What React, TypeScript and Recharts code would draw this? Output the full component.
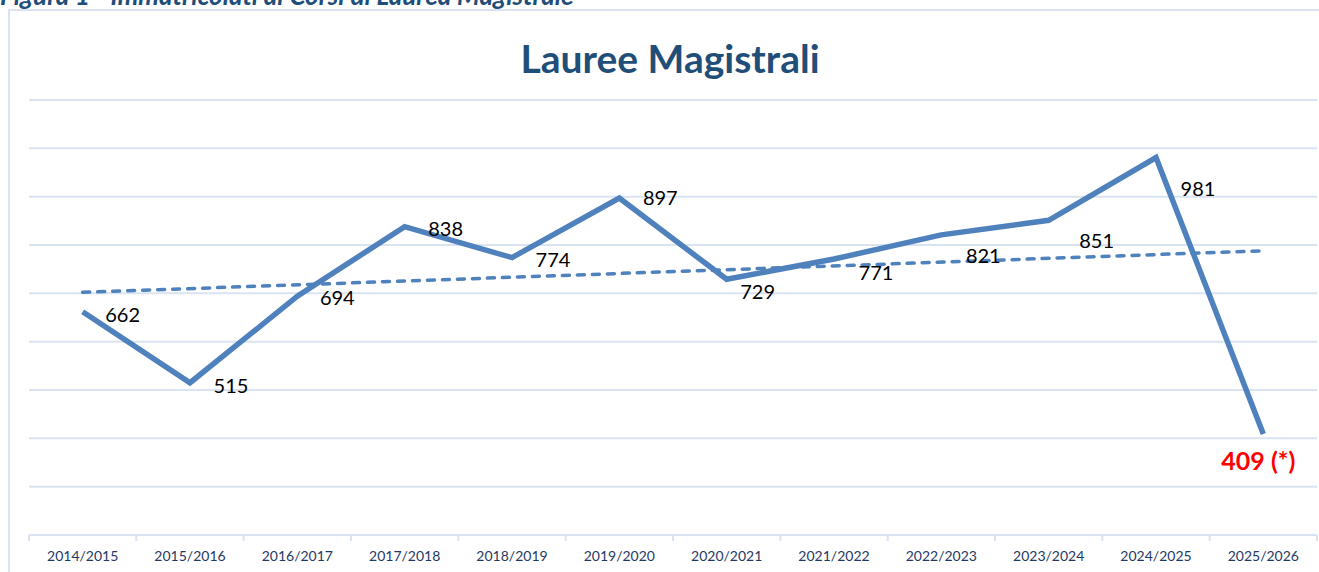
import React from "react";
import {
  LineChart,
  Line,
  XAxis,
  YAxis,
  CartesianGrid,
  ReferenceLine,
  LabelList,
} from "recharts";

// anni accademici
const categories = [
  "2014/2015",
  "2015/2016",
  "2016/2017",
  "2017/2018",
  "2018/2019",
  "2019/2020",
  "2020/2021",
  "2021/2022",
  "2022/2023",
  "2023/2024",
  "2024/2025",
  "2025/2026",
];

// immatricolati
const iscritti = [662, 515, 694, 838, 774, 897, 729, 771, 821, 851, 981, 409];

// linea di tendenza (estremi)
const trendStart = 702;
const trendEnd = 788;

const yTicks = [200, 300, 400, 500, 600, 700, 800, 900, 1000, 1100];

const data = categories.map((anno, i) => ({ anno, valore: iscritti[i] }));

const W = 1319;
const H = 572;
const MARGIN = { top: 100, right: 2, left: 29, bottom: 0 };
const BAND = (W - MARGIN.left - MARGIN.right) / categories.length;

const BLUE = "#4f81bd";
const GRID = "#d9e3f2";
const FONT = "Lato, 'Open Sans', sans-serif";

// spostamento delle etichette rispetto al punto
const labelDx = [40, 41, 40, 41, 41, 41, 31, 42, 42, 48, 42, -5];
const labelDy = [2, 2, 1, 1, 1, -1, 12, 13, 20, 20, 30, 26];

const ValueLabel = (props: any) => {
  const { x, y, index, value } = props;
  const last = index === iscritti.length - 1;
  return (
    <text
      x={x + labelDx[index]}
      y={y + labelDy[index]}
      textAnchor="middle"
      dominantBaseline="central"
      fontFamily={FONT}
      fontSize={last ? 25 : 20}
      fontWeight={last ? 700 : 400}
      fill={last ? "#ff0000" : "#000"}
    >
      {last ? `${value} (*)` : value}
    </text>
  );
};

const AnnoTick = (props: any) => {
  const { x, y, payload, index } = props;
  const last = index === categories.length - 1;
  return (
    <g>
      <line x1={x - BAND / 2} x2={x - BAND / 2} y1={y - 6} y2={y} stroke={GRID} strokeWidth={2} />
      {last && (
        <line x1={x + BAND / 2} x2={x + BAND / 2} y1={y - 6} y2={y} stroke={GRID} strokeWidth={2} />
      )}
      <text
        x={x}
        y={y + 14}
        textAnchor="middle"
        dominantBaseline="central"
        fontFamily={FONT}
        fontSize={14}
        fill="#1f3864"
      >
        {payload.value}
      </text>
    </g>
  );
};

export default function App() {
  return (
    <div
      style={{
        position: "absolute",
        left: 0,
        top: 0,
        width: W,
        height: H,
        overflow: "hidden",
        background: "#fff",
      }}
    >
      <div
        style={{
          position: "absolute",
          left: 0,
          top: -19,
          fontFamily: FONT,
          fontSize: 26,
          fontWeight: 700,
          fontStyle: "italic",
          color: "#1f4e79",
          whiteSpace: "nowrap",
          lineHeight: "28px",
        }}
      >
        Figura 1 - Immatricolati ai Corsi di Laurea Magistrale
      </div>
      <div
        style={{
          position: "absolute",
          left: 8,
          top: 9,
          width: W + 20,
          height: H + 20,
          border: `2px solid ${GRID}`,
        }}
      />
      <div
        style={{
          position: "absolute",
          left: 0,
          width: 1340,
          top: 34,
          textAlign: "center",
          fontFamily: FONT,
          fontSize: 39,
          fontWeight: 700,
          color: "#1f4e79",
          lineHeight: "48px",
        }}
      >
        Lauree Magistrali
      </div>
      <div style={{ position: "absolute", left: 0, top: 0 }}>
        <LineChart width={W} height={H} data={data} margin={MARGIN}>
          <CartesianGrid vertical={false} stroke={GRID} strokeWidth={2} />
          <XAxis
            dataKey="anno"
            height={37}
            padding={{ left: BAND / 2, right: BAND / 2 }}
            axisLine={{ stroke: GRID, strokeWidth: 2 }}
            tickLine={false}
            tickSize={6}
            tickMargin={0}
            interval={0}
            tick={<AnnoTick />}
          />
          <YAxis hide domain={[200, 1100]} ticks={yTicks} width={0} />
          <Line
            type="linear"
            dataKey="valore"
            stroke={BLUE}
            strokeWidth={5.5}
            strokeLinejoin="miter"
            dot={false}
            activeDot={false}
            isAnimationActive={false}
          >
            <LabelList dataKey="valore" content={<ValueLabel />} />
          </Line>
          <ReferenceLine
            segment={[
              { x: categories[0], y: trendStart },
              { x: categories[categories.length - 1], y: trendEnd },
            ]}
            stroke={BLUE}
            strokeWidth={3.5}
            strokeDasharray="7 8"
            strokeLinecap="round"
            ifOverflow="visible"
          />
        </LineChart>
      </div>
    </div>
  );
}
